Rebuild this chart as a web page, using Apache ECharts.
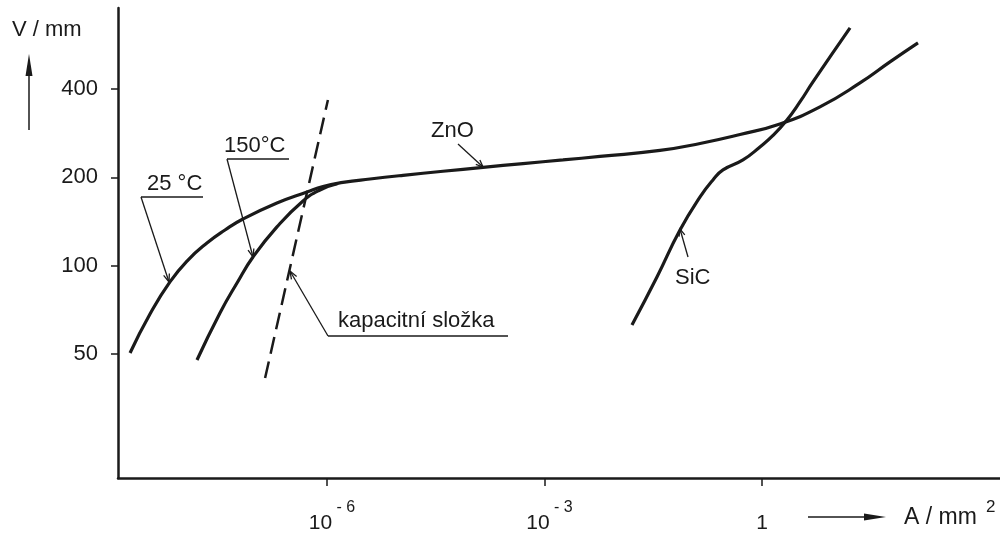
<!DOCTYPE html>
<html>
<head>
<meta charset="utf-8">
<title>V-A charakteristika ZnO / SiC</title>
<script src="https://cdn.jsdelivr.net/npm/echarts@6/dist/echarts.min.js"></script>
<style>
html, body { margin: 0; padding: 0; background: #fff; }
#chart { width: 1000px; height: 533px; }
</style>
</head>
<body>
<div id="chart"></div>
<script>
// hodnoty: A/mm2 (x) a V/mm (y), obě osy logaritmické
var xTicks = [1e-6, 1e-3, 1];
var yTicks = [50, 100, 200, 400];
var xRange = [1.31e-9, 1920];
var yRange = [18.9, 755];

// ZnO 25 °C vcetne spolecne vetve
var zno25A = [1.92e-9, 3.62e-9, 6.82e-9, 1.21e-8, 2.21e-8, 3.92e-8, 6.93e-8, 2.04e-7, 5.30e-7, 8.81e-7, 1.66e-6, 3.92e-6, 1.12e-5, 3.98e-5, 1.42e-4, 5.05e-4, 1.80e-3, 5.83e-3, 3.92e-2, 0.140, 0.498, 1.77, 6.31, 22.5, 58.3, 141.9];
var zno25V = [50.4, 68.4, 88.0, 104.5, 119.5, 132.3, 144.2, 163.5, 178.3, 186.2, 192.1, 197.4, 203.2, 209.7, 216.2, 222.8, 229.2, 235.6, 246.9, 260.8, 279.9, 303.9, 347.4, 419.3, 494.5, 573.9];

// ZnO 150 °C
var zno150A = [1.61e-8, 3.34e-8, 5.74e-8, 9.53e-8, 2.04e-7, 4.67e-7, 8.00e-7, 1.42e-6];
var zno150V = [47.7, 69.0, 87.3, 107.0, 135.5, 166.1, 181.1, 190.6];

// SiC
var sicA = [1.61e-2, 3.56e-2, 7.40e-2, 0.140, 0.211, 0.290, 0.547, 0.938, 1.42, 2.21, 3.34, 5.05, 16.4];
var sicV = [62.8, 91.5, 132.3, 171.4, 195.9, 211.9, 229.2, 253.8, 277.7, 313.6, 361.3, 422.6, 645.6];

// kapacitni slozka (carkovane)
var capA = [1.40e-7, 1.03e-6];
var capV = [41.4, 367];

var ink = '#1a1a1a';
var fam = '"Liberation Sans", Arial, sans-serif';

function lg(v) { return Math.log10(v); }
function pts(a, v) { return a.map(function (x, i) { return [lg(x), lg(v[i])]; }); }

function seg(x1, y1, x2, y2, w) {
  return { type: 'line', shape: { x1: x1, y1: y1, x2: x2, y2: y2 }, style: { stroke: ink, lineWidth: w || 1.3 } };
}
function head(fx, fy, tx, ty, len, half, filled) {
  var dx = tx - fx, dy = ty - fy, d = Math.sqrt(dx * dx + dy * dy);
  var ux = dx / d, uy = dy / d;
  var bx = tx - ux * len, by = ty - uy * len;
  var p1 = [bx - uy * half, by + ux * half], p2 = [bx + uy * half, by - ux * half];
  if (filled) return { type: 'polygon', shape: { points: [[tx, ty], p1, p2] }, style: { fill: ink } };
  return { type: 'polyline', shape: { points: [p1, [tx, ty], p2] }, style: { stroke: ink, lineWidth: 1.3, fill: null } };
}
function txt(x, y, s, size) {
  return { type: 'text', x: x, y: y, style: { text: s, font: (size || 22) + 'px ' + fam, fill: ink, textAlign: 'left', textVerticalAlign: 'middle' } };
}
// popisek s podtrzenim a odkazovou carou
function callout(label, tx, ty, ux1, ux2, uy, px, py) {
  return [txt(tx, ty, label), seg(ux1, uy, ux2, uy, 1.5), seg(ux1, uy, px, py), head(ux1, uy, px, py, 8, 3, false)];
}

var graphics = [].concat(
  [txt(12, 30, 'V / mm'), seg(29, 130, 29, 72, 1.5), head(29, 130, 29, 54, 22, 3.5, true)],
  [seg(808, 517, 868, 517, 1.5), head(808, 517, 886, 517, 22, 3.5, true), txt(904, 518, 'A / mm', 23), txt(986, 507, '2', 17)],
  callout('25 °C', 147, 184, 141, 203, 197, 169, 282),
  callout('150°C', 224, 146, 227, 289, 159, 253, 257),
  callout('kapacitní složka', 338, 321, 328, 508, 336, 290, 271),
  [txt(431, 131, 'ZnO'), seg(458, 144, 483, 167), head(458, 144, 483, 167, 7, 3, false)],
  [txt(675, 278, 'SiC'), seg(688, 257, 680, 229), head(688, 257, 680, 229, 7, 3, false)]
);

var myChart = echarts.init(document.getElementById('chart'));
var curve = { type: 'line', smooth: 0.5, showSymbol: false, silent: true, lineStyle: { color: ink, width: 3.2 } };

var option = {
  animation: false,
  backgroundColor: '#fff',
  grid: { left: 118, right: 0, top: 8, bottom: 55, outerBoundsMode: 'none' },
  xAxis: {
    type: 'value',
    min: lg(xRange[0]),
    max: lg(xRange[1]),
    splitLine: { show: false },
    axisLine: { onZero: false, lineStyle: { color: ink, width: 2.5 } },
    axisTick: { customValues: xTicks.map(lg), length: 8, lineStyle: { color: ink, width: 1.5 } },
    axisLabel: {
      customValues: xTicks.map(lg),
      margin: 22,
      formatter: function (v) {
        var e = Math.round(v);
        return e === 0 ? '{b|1}' : '{p|10}{s| - ' + Math.abs(e) + '}';
      },
      rich: {
        b: { fontSize: 21, fontFamily: fam, color: ink, lineHeight: 34, verticalAlign: 'bottom' },
        p: { fontSize: 21, fontFamily: fam, color: ink, lineHeight: 34, verticalAlign: 'bottom', padding: [0, 0, 0, 10] },
        s: { fontSize: 16, fontFamily: fam, color: ink, lineHeight: 2, verticalAlign: 'top' }
      }
    }
  },
  yAxis: {
    type: 'value',
    min: lg(yRange[0]),
    max: lg(yRange[1]),
    splitLine: { show: false },
    axisLine: { onZero: false, lineStyle: { color: ink, width: 2.5 } },
    axisTick: { customValues: yTicks.map(lg), length: 7, lineStyle: { color: ink, width: 1.5 } },
    axisLabel: {
      customValues: yTicks.map(lg),
      margin: 20,
      fontSize: 22,
      fontFamily: fam,
      color: ink,
      formatter: function (v) { return String(Math.round(Math.pow(10, v))); }
    }
  },
  series: [
    Object.assign({}, curve, { name: 'ZnO 25 °C', data: pts(zno25A, zno25V) }),
    Object.assign({}, curve, { name: 'ZnO 150 °C', data: pts(zno150A, zno150V) }),
    Object.assign({}, curve, { name: 'SiC', data: pts(sicA, sicV) }),
    { type: 'line', name: 'kapacitní složka', showSymbol: false, silent: true, data: pts(capA, capV),
      lineStyle: { color: ink, width: 2.5, type: [17, 8] } }
  ],
  graphic: graphics
};
myChart.setOption(option);
</script>
</body>
</html>
